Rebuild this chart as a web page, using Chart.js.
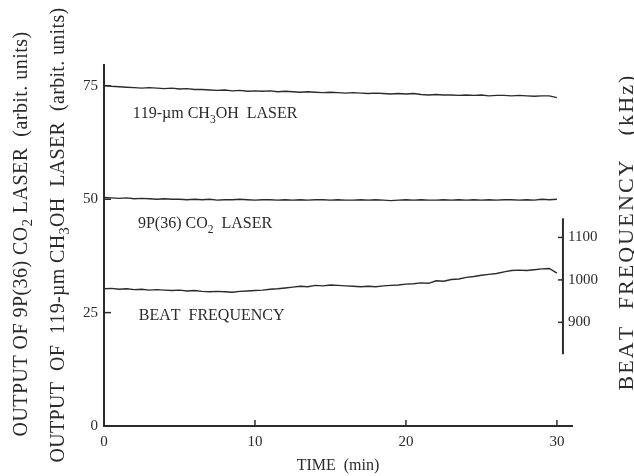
<!DOCTYPE html>
<html lang="en">
<head>
    <meta charset="UTF-8">
    <title>Laser output and beat frequency vs time</title>
    <style>
        body {
            margin: 0;
            background-color: #ffffff;
        }
        canvas {
            display: block;
        }
    </style>
</head>
<body>
    <canvas id="chartCanvas" width="634" height="476"></canvas>

    <script src="https://cdn.jsdelivr.net/npm/chart.js@4.4.1/dist/chart.umd.min.js"></script>
    <script>
        // time axis (min)
        const times = [
            0, 0.5, 1, 1.5, 2, 2.5, 3, 3.5, 4, 4.5,
            5, 5.5, 6, 6.5, 7, 7.5, 8, 8.5, 9, 9.5,
            10, 10.5, 11, 11.5, 12, 12.5, 13, 13.5, 14, 14.5,
            15, 15.5, 16, 16.5, 17, 17.5, 18, 18.5, 19, 19.5,
            20, 20.5, 21, 21.5, 22, 22.5, 23, 23.5, 24, 24.5,
            25, 25.5, 26, 26.5, 27, 27.5, 28, 28.5, 29, 29.5,
            30
        ];

        // 119-um CH3OH laser output (arbit. units)
        const methanol = [
            75.1, 74.9, 74.8, 74.7, 74.6, 74.5, 74.6, 74.5, 74.4, 74.5,
            74.3, 74.4, 74.2, 74.2, 74.1, 74.0, 74.1, 73.9, 74.0, 73.8,
            73.9, 73.8, 73.9, 73.7, 73.8, 73.7, 73.6, 73.7, 73.6, 73.5,
            73.6, 73.5, 73.4, 73.5, 73.4, 73.3, 73.4, 73.3, 73.2, 73.3,
            73.2, 73.3, 73.1, 73.0, 73.1, 73.0, 73.0, 72.9, 73.0, 72.9,
            73.0, 72.8, 72.9, 72.9, 72.8, 72.9, 72.8, 72.7, 72.8, 72.8,
            72.4
        ];

        // 9P(36) CO2 laser output (arbit. units)
        const co2 = [
            50.4, 50.3, 50.2, 50.3, 50.1, 50.2, 50.1, 50.0, 50.1, 50.0,
            50.0, 49.9, 50.0, 49.9, 50.0, 49.8, 49.9, 49.9, 50.0, 49.9,
            49.8, 49.9, 49.9, 49.8, 49.9, 49.8, 49.9, 49.8, 49.9, 49.9,
            49.8, 49.9, 49.8, 49.8, 49.9, 49.8, 49.9, 49.8, 49.7, 49.8,
            49.9, 49.8, 49.9, 49.8, 49.8, 49.9, 49.8, 49.9, 49.8, 49.9,
            49.8, 49.9, 49.8, 49.9, 49.9, 49.8, 49.9, 49.8, 50.0, 49.9,
            50.0
        ];

        // beat frequency (kHz)
        const beat = [
            979, 980, 978, 979, 977, 978, 976, 977, 976, 975,
            976, 974, 975, 973, 972, 973, 972, 971, 973, 974,
            975, 976, 978, 979, 981, 983, 985, 984, 987, 986,
            988, 987, 986, 985, 984, 985, 984, 986, 987, 988,
            990, 991, 993, 992, 998, 997, 1001, 1002, 1006, 1008,
            1011, 1013, 1015, 1019, 1022, 1023, 1022, 1024, 1026, 1027,
            1016
        ];

        const xTicks = [0, 10, 20, 30];
        const yTicks = [0, 25, 50, 75];
        const beatTicks = [900, 1000, 1100];
        const beatSpan = [825, 1145];    // drawn extent of the kHz axis
        const beatRange = [656, 1506];   // kHz range mapped on the plot height
        const beatAxisAt = 30.4;         // time where the kHz axis stands

        const ink = '#2b2b2b';
        const serif = '"Liberation Serif", "DejaVu Serif", serif';

        // labels inside the plot, anchored in data units
        const curveLabels = [
            { parts: ['119-\u00b5m CH', { sub: '3' }, 'OH  LASER'], t: 1.9, v: 69 },
            { parts: ['9P(36) CO', { sub: '2' }, '  LASER'], t: 2.25, v: 44.8 },
            { parts: ['BEAT  FREQUENCY'], t: 2.3, v: 24.5 }
        ];

        function pts(vals) {
            return times.map((t, i) => ({ x: t, y: vals[i] }));
        }

        function richWidth(ctx, parts, size, gap) {
            let w = 0;
            parts.forEach(p => {
                const sub = typeof p !== 'string';
                ctx.font = (sub ? size * 0.72 : size) + 'px ' + serif;
                for (const ch of (sub ? p.sub : p)) w += ctx.measureText(ch).width + gap;
            });
            return w;
        }

        function charCount(parts) {
            return parts.reduce((n, p) => n + (typeof p === 'string' ? p.length : p.sub.length), 0);
        }

        function drawRich(ctx, parts, x, y, size, gap) {
            parts.forEach(p => {
                const sub = typeof p !== 'string';
                ctx.font = (sub ? size * 0.72 : size) + 'px ' + serif;
                const dy = sub ? size * 0.28 : 0;
                for (const ch of (sub ? p.sub : p)) {
                    ctx.fillText(ch, x, y + dy);
                    x += ctx.measureText(ch).width + gap;
                }
            });
        }

        // rotated title stretched to a given length
        function drawTitle(ctx, parts, cx, cy, size, length) {
            const gap = Math.max(0, (length - richWidth(ctx, parts, size, 0)) / charCount(parts));
            const w = richWidth(ctx, parts, size, gap);
            ctx.save();
            ctx.translate(cx, cy);
            ctx.rotate(-Math.PI / 2);
            drawRich(ctx, parts, -w / 2, size * 0.33, size, gap);
            ctx.restore();
        }

        function line(ctx, x1, y1, x2, y2) {
            ctx.beginPath();
            ctx.moveTo(x1, y1);
            ctx.lineTo(x2, y2);
            ctx.stroke();
        }

        const decor = {
            id: 'decor',
            afterDraw(chart) {
                const ctx = chart.ctx;
                const xs = chart.scales.x, ys = chart.scales.y, bs = chart.scales.y2;
                ctx.save();
                ctx.strokeStyle = ink;
                ctx.fillStyle = ink;
                ctx.lineWidth = 1.5;
                ctx.textAlign = 'left';
                ctx.textBaseline = 'alphabetic';

                // inward tick marks
                yTicks.forEach(v => {
                    if (v === 0) return;
                    const py = ys.getPixelForValue(v);
                    line(ctx, xs.left, py, xs.left + 7, py);
                });
                xTicks.forEach(v => {
                    if (v === 0) return;
                    const px = xs.getPixelForValue(v);
                    line(ctx, px, ys.bottom, px, ys.bottom - 6);
                });

                // beat frequency axis
                const ax = xs.getPixelForValue(beatAxisAt);
                ctx.lineWidth = 2;
                line(ctx, ax, bs.getPixelForValue(beatSpan[0]), ax, bs.getPixelForValue(beatSpan[1]));
                ctx.lineWidth = 1.5;
                ctx.font = '15px ' + serif;
                ctx.textBaseline = 'middle';
                beatTicks.forEach(v => {
                    const py = bs.getPixelForValue(v);
                    line(ctx, ax - 5, py, ax, py);
                    ctx.fillText(String(v), ax + 5, py);
                });
                ctx.textBaseline = 'alphabetic';

                // curve labels
                curveLabels.forEach(l => {
                    drawRich(ctx, l.parts, xs.getPixelForValue(l.t), ys.getPixelForValue(l.v) + 16 * 0.33, 16, 0);
                });

                // axis titles
                drawTitle(ctx, ['OUTPUT OF 9P(36) CO', { sub: '2' }, ' LASER  (arbit. units)'], 20, 234, 20, 405);
                drawTitle(ctx, ['OUTPUT  OF  119-\u00b5m CH', { sub: '3' }, 'OH  LASER  (arbit. units)'], 57, 235, 20, 455);
                drawTitle(ctx, ['BEAT  FREQUENCY   (kHz)'], 626, 232, 22, 317);
                ctx.restore();
            }
        };

        const ctx = document.getElementById('chartCanvas').getContext('2d');
        const chart = new Chart(ctx, {
            type: 'line',
            data: {
                datasets: [
                    { label: '119-um CH3OH laser', data: pts(methanol), yAxisID: 'y' },
                    { label: '9P(36) CO2 laser', data: pts(co2), yAxisID: 'y' },
                    { label: 'Beat frequency', data: pts(beat), yAxisID: 'y2' }
                ]
            },
            options: {
                responsive: false,
                animation: false,
                layout: { padding: { left: 0, top: 65, right: 62, bottom: 0 } },
                elements: {
                    point: { radius: 0 },
                    line: { borderWidth: 1.4, borderColor: ink, tension: 0 }
                },
                plugins: {
                    legend: { display: false },
                    tooltip: { enabled: false }
                },
                scales: {
                    x: {
                        type: 'linear',
                        min: 0,
                        max: 31,
                        afterBuildTicks: s => { s.ticks = xTicks.map(v => ({ value: v })); },
                        afterFit: s => { s.height = 50; },
                        grid: { display: false, drawTicks: false },
                        border: { color: ink, width: 2 },
                        ticks: { color: ink, padding: 7, font: { family: serif, size: 15 } },
                        title: {
                            display: true,
                            text: 'TIME  (min)',
                            color: ink,
                            font: { family: serif, size: 16 },
                            padding: { top: 0, bottom: 1 }
                        }
                    },
                    y: {
                        min: 0,
                        max: 79.6,
                        afterBuildTicks: s => { s.ticks = yTicks.map(v => ({ value: v })); },
                        afterFit: s => { s.width = 104; },
                        grid: { display: false, drawTicks: false },
                        border: { color: ink, width: 2 },
                        ticks: { color: ink, padding: 6, font: { family: serif, size: 15 } }
                    },
                    y2: {
                        display: false,
                        min: beatRange[0],
                        max: beatRange[1]
                    }
                }
            },
            plugins: [decor]
        });
    </script>
</body>
</html>
